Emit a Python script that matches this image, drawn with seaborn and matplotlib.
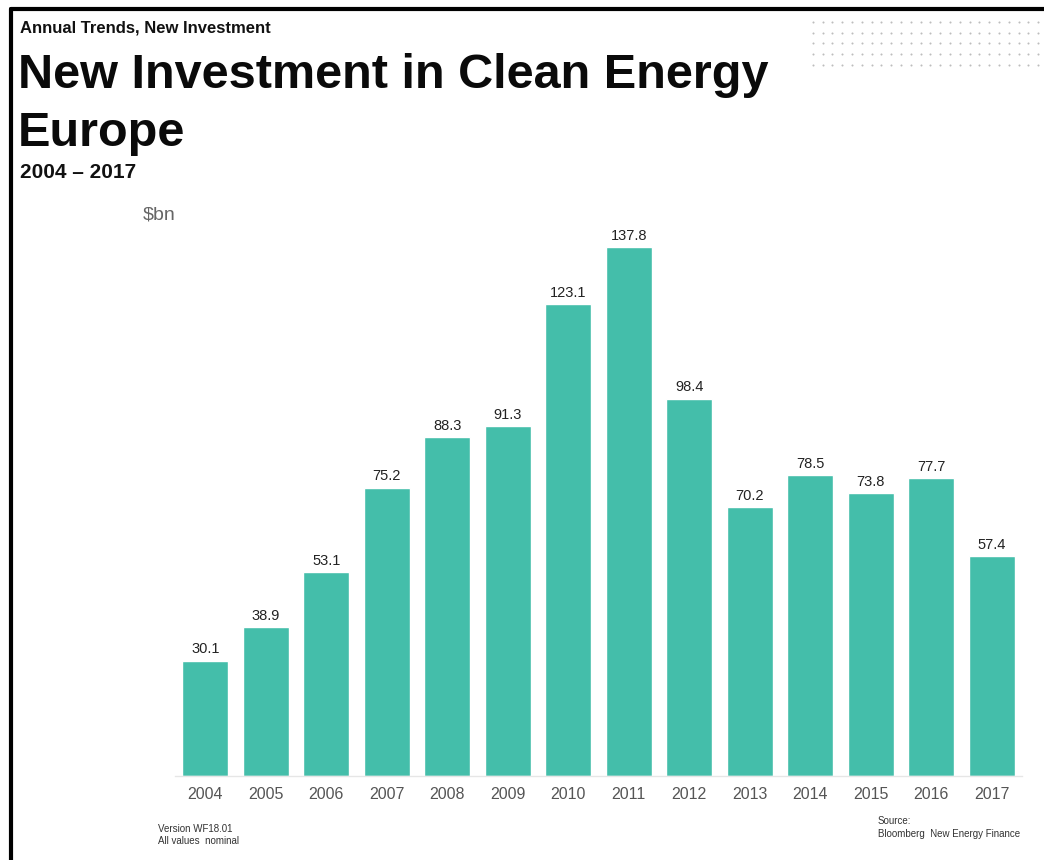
import numpy as np
import pandas as pd
import matplotlib
matplotlib.use("Agg")
import matplotlib.pyplot as plt
from matplotlib.lines import Line2D
import seaborn as sns

years = ["2004", "2005", "2006", "2007", "2008", "2009", "2010",
         "2011", "2012", "2013", "2014", "2015", "2016", "2017"]
investment_bn = [30.1, 38.9, 53.1, 75.2, 88.3, 91.3, 123.1,
                 137.8, 98.4, 70.2, 78.5, 73.8, 77.7, 57.4]

df = pd.DataFrame({"year": years, "value": investment_bn})

sns.set_theme(style="white")
plt.rcParams["font.family"] = ["Liberation Sans", "DejaVu Sans"]

fig = plt.figure(figsize=(10.44, 8.6), dpi=100)
ax = fig.add_axes([0.1676, 0.0977, 0.8114, 0.669])

sns.barplot(data=df, x="year", y="value", color="#44BEAA", saturation=1,
            width=0.76, ax=ax)

ax.set_ylim(0, 150)
ax.set_xlim(-0.5, len(years) - 0.5)
for c in ax.containers:
    ax.bar_label(c, labels=[f"{v:.1f}" for v in investment_bn], padding=3,
                 fontsize=10.5, color="#222222")

ax.set_xlabel("")
ax.set_ylabel("")
ax.set_yticks([])
ax.tick_params(axis="x", length=0, labelsize=11.5, labelcolor="#555555", pad=8)
for side in ["top", "right", "left"]:
    ax.spines[side].set_visible(False)
ax.spines["bottom"].set_color("#e6e6e6")
ax.spines["bottom"].set_linewidth(1.0)

# headings
fig.text(0.019, 0.967, "Annual Trends, New Investment", fontsize=12,
         fontweight="bold", color="#111111", va="center")
fig.text(0.017, 0.912, "New Investment in Clean Energy", fontsize=35,
         fontweight="bold", color="#0a0a0a", va="center")
fig.text(0.017, 0.845, "Europe", fontsize=35, fontweight="bold",
         color="#0a0a0a", va="center")
fig.text(0.019, 0.800, "2004 \u2013 2017", fontsize=15, fontweight="bold",
         color="#111111", va="center")
fig.text(0.137, 0.750, "$bn", fontsize=14, color="#666666", va="center")

# footnotes
fig.text(0.151, 0.029, "Version WF18.01\nAll values  nominal", fontsize=7,
         color="#333333", va="center", linespacing=1.3)
fig.text(0.841, 0.038, "Source:\nBloomberg  New Energy Finance", fontsize=7,
         color="#333333", va="center", linespacing=1.3)

# frame lines on the top and left edge
fig.add_artist(Line2D([0.0105, 1.0], [0.9895, 0.9895], color="black", lw=3,
                      transform=fig.transFigure))
fig.add_artist(Line2D([0.0105, 0.0105], [0.0, 0.9895], color="black", lw=3,
                      transform=fig.transFigure))

# dotted ornament in the top-right corner
dax = fig.add_axes([0.773, 0.918, 0.227, 0.063])
gx, gy = np.meshgrid(np.arange(24), np.arange(5))
dax.scatter(gx.ravel(), gy.ravel(), s=2.2, color="#bdbdbd", linewidths=0)
dax.set_xlim(-0.6, 23.6)
dax.set_ylim(4.5, -0.5)
dax.axis("off")

fig.savefig("out.png", dpi=100)
